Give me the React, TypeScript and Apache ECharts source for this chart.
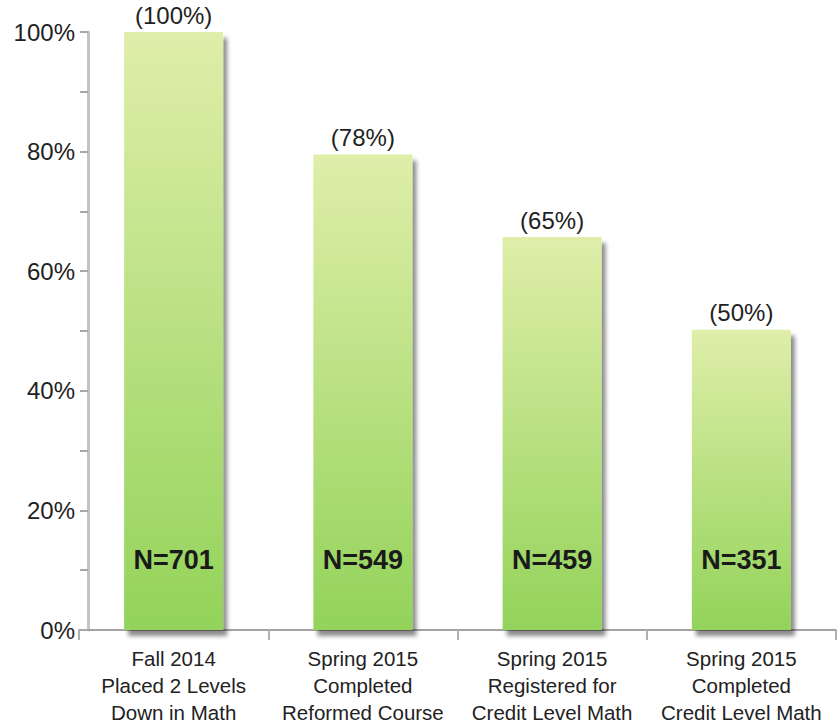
import React, { useEffect, useRef } from "react";
import * as echarts from "echarts";

const categories = [
  "Fall 2014\nPlaced 2 Levels\nDown in Math",
  "Spring 2015\nCompleted\nReformed Course",
  "Spring 2015\nRegistered for\nCredit Level Math",
  "Spring 2015\nCompleted\nCredit Level Math",
];
const percents = [100, 79.5, 65.7, 50.2];
const pctLabels = ["(100%)", "(78%)", "(65%)", "(50%)"];
const counts = ["N=701", "N=549", "N=459", "N=351"];

export default function App() {
  const ref = useRef<HTMLDivElement>(null);
  useEffect(() => {
    document.body.style.margin = "0";
    const chart = echarts.init(ref.current!, null, { renderer: "svg" });
    const font = "Liberation Sans, Arial, sans-serif";
    chart.setOption({
      animation: false,
      grid: { left: 79, right: 4, top: 32, bottom: 98 },
      xAxis: {
        type: "category",
        data: categories,
        axisLine: { lineStyle: { color: "#a3a3a3", width: 2 } },
        axisTick: { show: true, length: 10, lineStyle: { color: "#b0b0b0", width: 2 } },
        axisLabel: {
          interval: 0,
          color: "#222",
          fontFamily: font,
          fontSize: 20.5,
          lineHeight: 27,
          margin: 15,
        },
      },
      yAxis: {
        type: "value",
        min: 0,
        max: 100,
        interval: 20,
        offset: -9,
        axisLine: { show: true, lineStyle: { color: "#c4c4c4", width: 3 } },
        axisTick: { show: true, length: 8, lineStyle: { color: "#a8a8a8", width: 2 } },
        minorTick: { show: true, splitNumber: 2, length: 8, lineStyle: { color: "#a8a8a8", width: 2 } },
        splitLine: { show: false },
        axisLabel: {
          formatter: "{value}%",
          color: "#222",
          fontFamily: font,
          fontSize: 24,
          margin: 13,
        },
      },
      series: [
        {
          type: "bar",
          data: percents,
          barWidth: 99,
          itemStyle: {
            color: new echarts.graphic.LinearGradient(0, 0, 0, 1, [
              { offset: 0, color: "#dfeea9" },
              { offset: 1, color: "#93d35a" },
            ]),
            shadowColor: "rgba(0,0,0,0.45)",
            shadowBlur: 4,
            shadowOffsetX: 4,
            shadowOffsetY: 6,
          },
          label: {
            show: true,
            position: "top",
            distance: 5,
            color: "#222",
            fontFamily: font,
            fontSize: 24,
            formatter: (p: any) => pctLabels[p.dataIndex],
          },
          z: 2,
        },
        {
          type: "bar",
          data: percents,
          barWidth: 99,
          barGap: "-100%",
          itemStyle: { color: "rgba(0,0,0,0)" },
          label: {
            show: true,
            position: "insideBottom",
            distance: 57,
            color: "#1a1a1a",
            fontFamily: font,
            fontWeight: "bold",
            fontSize: 27,
            formatter: (p: any) => counts[p.dataIndex],
          },
          z: 3,
        },
      ],
    });
    return () => chart.dispose();
  }, []);
  return <div ref={ref} style={{ width: 840, height: 728 }} />;
}
